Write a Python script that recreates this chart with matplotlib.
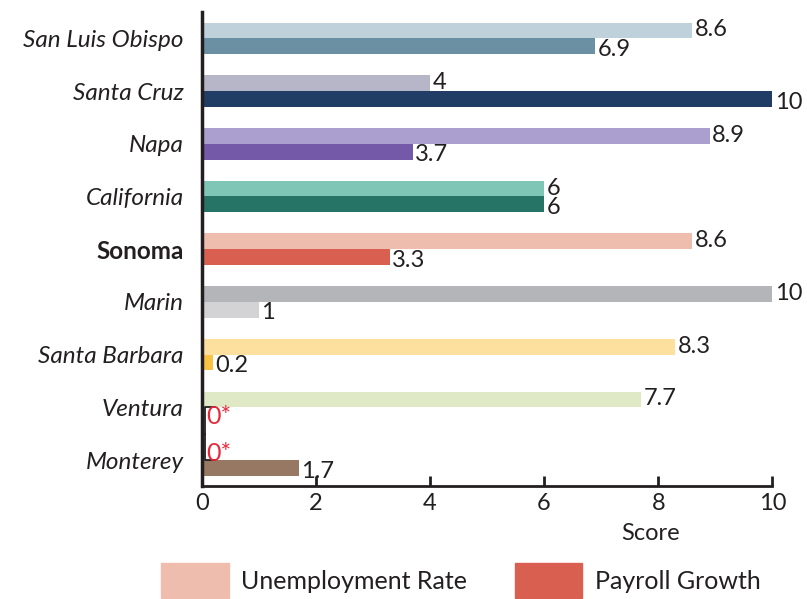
import numpy as np
from matplotlib import pyplot as plt
from matplotlib.patches import Patch

plt.rcParams['font.family'] = ['Lato', 'DejaVu Sans']

counties = ['San Luis Obispo', 'Santa Cruz', 'Napa', 'California', 'Sonoma',
            'Marin', 'Santa Barbara', 'Ventura', 'Monterey']
unemployment = [8.6, 4, 8.9, 6, 8.6, 10, 8.3, 7.7, 0]
payroll = [6.9, 10, 3.7, 6, 3.3, 1, 0.2, 0, 1.7]

unemp_colors = ['#bfd1da', '#b7b6c8', '#ab9fd0', '#80c6b6', '#efbdae',
                '#b3b5b8', '#fddf9e', '#e0e9c6', '#ffffff']
payroll_colors = ['#6b8fa3', '#213d66', '#7459a8', '#267466', '#d95f50',
                  '#d3d3d5', '#f8c244', '#ffffff', '#977862']

ink = '#231f20'
h = 0.3
y = np.arange(len(counties))

fig = plt.figure(figsize=(8.07, 5.99), dpi=100)
ax = fig.add_axes([0.250, 0.188, 0.707, 0.792])

ax.barh(y - h / 2, unemployment, height=h, color=unemp_colors)
ax.barh(y + h / 2, payroll, height=h, color=payroll_colors)


def label(vals, offs, nudge):
    for i, v in enumerate(vals):
        yy = y[i] + offs
        if v == 0:
            ax.text(0.08, yy + 0.03, '0*', color='#e8283a',
                    fontsize=18, va='center', ha='left')
            # bracket marking the empty bar
            edge = yy - h / 2 if offs > 0 else yy + h / 2
            other = y[i] + 0.5 if offs > 0 else y[i] - 0.5
            ax.plot([0.24, 0.05, 0.05], [edge, edge, other], color=ink, lw=1.3,
                    clip_on=False)
        else:
            ax.text(v + 0.04, yy + nudge, f'{v:g}', color=ink, fontsize=17,
                    va='center', ha='left')


label(unemployment, -h / 2, -0.01)
label(payroll, h / 2, 0.06)

ax.set_xlim(0, 10)
ax.set_ylim(8.5, -0.5)
ax.set_xticks(range(0, 11, 2))
ax.set_yticks(y)
ax.set_yticklabels(counties)
for t in ax.get_yticklabels():
    if t.get_text() == 'Sonoma':
        t.set_fontweight('bold')
    else:
        t.set_fontstyle('italic')

ax.tick_params(axis='y', length=0, pad=13, labelsize=17.5, labelcolor=ink)
ax.tick_params(axis='x', direction='in', length=7, width=2, color=ink,
               labelsize=17, labelcolor=ink, pad=5)

for s in ['top', 'right']:
    ax.spines[s].set_visible(False)
ax.spines['left'].set_linewidth(2.5)
ax.spines['bottom'].set_linewidth(2)
ax.spines['left'].set_color(ink)
ax.spines['bottom'].set_color(ink)

ax.set_xlabel('Score', fontsize=17, color=ink)
ax.xaxis.set_label_coords(0.787, -0.077)

handles = [Patch(color=unemp_colors[4], label='Unemployment Rate'),
           Patch(color=payroll_colors[4], label='Payroll Growth')]
fig.legend(handles=handles, loc='lower left', bbox_to_anchor=(0.2, 0.002),
           ncol=2, frameon=False, fontsize=18, handlelength=2.7,
           handleheight=1.75, handletextpad=0.5, columnspacing=1.9,
           borderpad=0, borderaxespad=0, labelcolor=ink)

fig.savefig('out.png', dpi=100)
